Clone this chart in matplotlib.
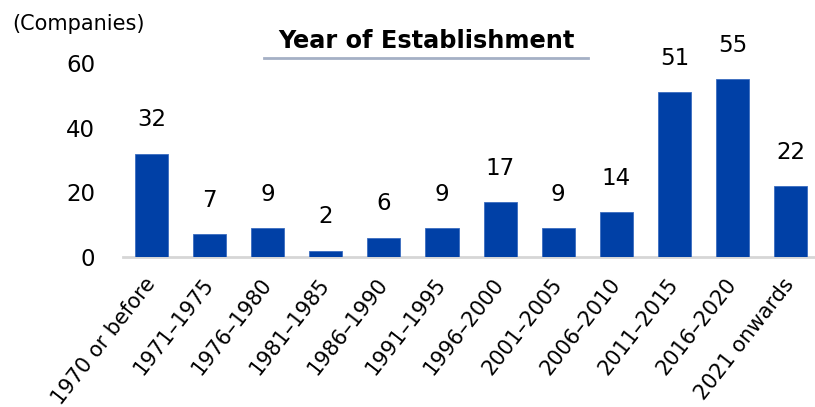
import matplotlib
matplotlib.use("Agg")
import matplotlib.pyplot as plt
from matplotlib.lines import Line2D

categories = ["1970 or before", "1971\u20131975", "1976\u20131980", "1981\u20131985", "1986\u20131990",
              "1991\u20131995", "1996\u20132000", "2001\u20132005", "2006\u20132010", "2011\u20132015",
              "2016\u20132020", "2021 onwards"]
values = [32, 7, 9, 2, 6, 9, 17, 9, 14, 51, 55, 22]
yticks = [0, 20, 40, 60]

W, H = 815, 407
fig = plt.figure(figsize=(W/100, H/100), dpi=100)
plt.rcParams['font.family'] = ['DejaVu Sans']
bottom = (H - 257) / H
top = (H - 63) / H
ax = fig.add_axes([123/W, bottom, 696.6/W, top - bottom])
x = range(len(categories))
bars = ax.bar(x, values, width=0.57, color="#0040A6", edgecolor="#3a6cc0", linewidth=0.6, zorder=3)
ax.set_xlim(-0.49, 11.5)
ax.set_ylim(0, 60)
ax.set_yticks(yticks)
ax.set_yticklabels([str(v) for v in yticks], fontsize=16.5)
ax.tick_params(axis='y', length=0, pad=20)
ax.set_xticks(list(x))
ax.set_xticklabels(categories, rotation=52, ha='right', va='center', rotation_mode='anchor', fontsize=15)
ax.tick_params(axis='x', length=0, pad=17)
for s in ['top', 'right', 'left']:
    ax.spines[s].set_visible(False)
ax.spines['bottom'].set_color('#d6d6d6')
ax.spines['bottom'].set_linewidth(2)
for i, v in enumerate(values):
    ax.annotate(str(v), (i, v), xytext=(0, 16), textcoords='offset points', ha='center', va='bottom',
                fontsize=16.5, clip_on=False)

fig.text(78/W, 1 - 24/H, "(Companies)", ha='center', va='center', fontsize=15)
fig.text(426/W, 1 - 41/H, "Year of Establishment", ha='center', va='center', fontsize=17.3, fontweight='bold')
fig.add_artist(Line2D([264/W, 588/W], [1 - 57.5/H, 1 - 57.5/H], color='#a5b0c5', linewidth=2))

fig.savefig("out.png", dpi=100)
